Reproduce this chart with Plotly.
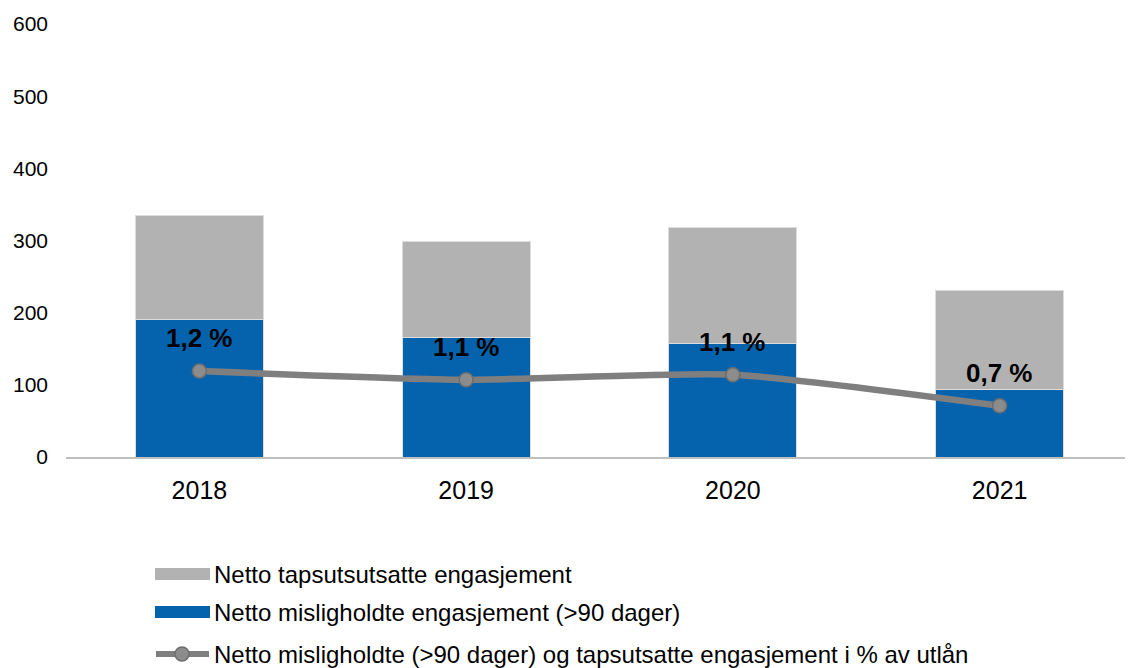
import plotly.graph_objects as go

years = ["2018", "2019", "2020", "2021"]
misligholdte = [190, 165, 157, 93]
tapsutsatte = [145, 134, 161, 138]
pct = [1.19, 1.07, 1.14, 0.71]
pct_labels = ["1,2 %", "1,1 %", "1,1 %", "0,7 %"]
y_ticks = [0, 100, 200, 300, 400, 500, 600]

legend_names = [
    "Netto tapsutsutsatte engasjement",
    "Netto misligholdte engasjement (>90 dager)",
    "Netto misligholdte (>90 dager) og tapsutsatte engasjement i % av utlån",
]

BLUE = "#0563AE"
GREY = "#B2B2B2"
LINE = "#7F7F7F"
FONT = "Liberation Sans, Arial, sans-serif"

fig = go.Figure()
fig.add_trace(go.Bar(x=years, y=misligholdte, name=legend_names[1],
                     marker=dict(color=BLUE, line=dict(color="#DDDDDD", width=1)),
                     width=0.48, showlegend=False))
fig.add_trace(go.Bar(x=years, y=tapsutsatte, name=legend_names[0],
                     marker=dict(color=GREY, line=dict(color="#DDDDDD", width=1)),
                     width=0.48, showlegend=False))
fig.add_trace(go.Scatter(x=years, y=pct, name=legend_names[2], yaxis="y2",
                         mode="lines+markers",
                         line=dict(color=LINE, width=6.5, shape="spline", smoothing=0.6),
                         marker=dict(size=14, color="#8C8C8C", line=dict(color="#6E6E6E", width=1.5)),
                         showlegend=False))

for i, (v, t) in enumerate(zip(pct, pct_labels)):
    fig.add_annotation(x=i, y=v, xref="x", yref="y2", text="<b>%s</b>" % t, showarrow=False,
                       yshift=33, font=dict(size=26, color="#000000", family=FONT))

# manual legend (paper coords derived from plot area in window pixels)
W, H = 1067.0, 433.0
def px(x):
    return (x - 66) / W
def py(y):
    return (457 - y) / H

rows = [574, 612, 654]
fig.add_shape(type="rect", xref="paper", yref="paper", x0=px(155), x1=px(210),
              y0=py(rows[0] + 6), y1=py(rows[0] - 6), fillcolor=GREY, line=dict(width=0))
fig.add_shape(type="rect", xref="paper", yref="paper", x0=px(155), x1=px(210),
              y0=py(rows[1] + 6), y1=py(rows[1] - 6), fillcolor=BLUE, line=dict(width=0))
fig.add_shape(type="line", xref="paper", yref="paper", x0=px(156), x1=px(209),
              y0=py(rows[2]), y1=py(rows[2]), line=dict(color=LINE, width=6))
fig.add_shape(type="circle", xref="paper", yref="paper", x0=px(175), x1=px(189),
              y0=py(rows[2] + 7), y1=py(rows[2] - 7), fillcolor="#8C8C8C",
              line=dict(color="#6E6E6E", width=1.5))
for r, name in zip(rows, legend_names):
    fig.add_annotation(xref="paper", yref="paper", x=px(212), y=py(r), text=name,
                       showarrow=False, xanchor="left", yanchor="middle",
                       font=dict(size=24, color="#000000", family=FONT))

fig.update_layout(
    barmode="stack",
    width=1125, height=660,
    margin=dict(l=58, r=0, t=16, b=211),
    paper_bgcolor="white", plot_bgcolor="white",
    font=dict(family=FONT, color="#000000"),
    xaxis=dict(type="category", range=[-0.5, 3.5], showgrid=False, showline=True,
               linecolor="#BFBFBF", linewidth=1.5,
               ticks="", tickfont=dict(size=25), ticklabelstandoff=10),
    yaxis=dict(range=[0, 600], tickvals=y_ticks, showgrid=False, zeroline=False,
               showline=False, ticks="", tickfont=dict(size=21), ticklabelstandoff=17),
    yaxis2=dict(range=[0, 6], overlaying="y", side="right", visible=False),
    showlegend=False,
)

fig.write_html("out.html")
